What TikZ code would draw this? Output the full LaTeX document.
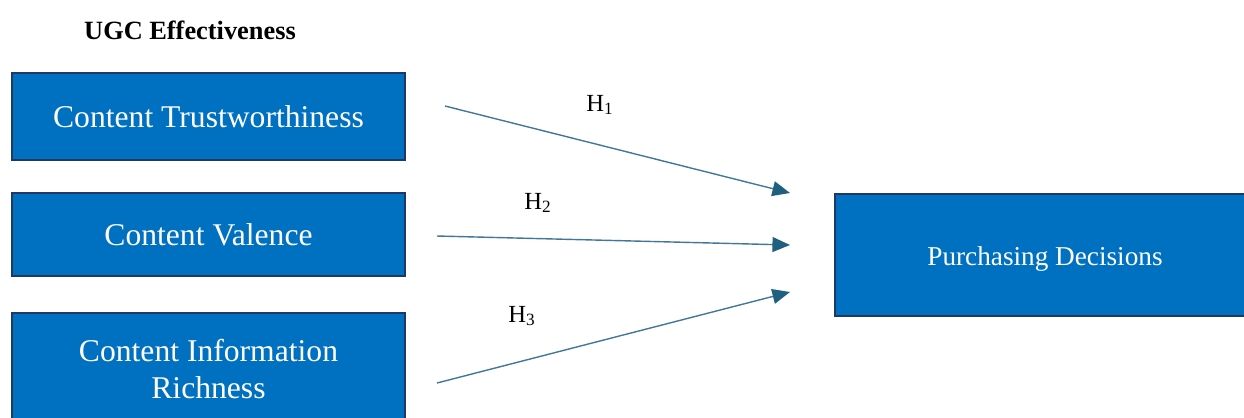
\documentclass[tikz,border=0pt]{standalone}
\usepackage{fontspec}
\setmainfont{Liberation Serif}
\usetikzlibrary{arrows.meta, positioning}
\definecolor{cfill}{HTML}{0070C0}
\definecolor{cedge}{HTML}{1F3864}
\definecolor{carrow}{HTML}{41789A}
\definecolor{ctip}{HTML}{1F5F80}
\tikzset{
  box/.style={draw=cedge, fill=cfill, text=white, line width=1.1pt, align=center,
    inner sep=0pt, font=\fontsize{18}{20.5}\selectfont},
  arrow/.style={-{Triangle[length=10pt, width=8.5pt, color=ctip]}, draw=carrow, line width=0.8pt},
  hyp/.style={font=\fontsize{14}{16}\selectfont},
  title/.style={font=\bfseries\fontsize{15}{17}\selectfont},
}
\begin{document}
\begin{tikzpicture}[x=0.02cm, y=-0.02cm]
  \useasboundingbox (0,0) rectangle (1244,417);
  \node[title] (ttl) at (190,30) {UGC Effectiveness};
  % ---------- predictors
  \node[box, minimum width=7.86cm, minimum height=1.74cm] (trust) at (208.5,116.5) {Content Trustworthiness};
  \node[box, minimum width=7.86cm, minimum height=1.66cm] (val) at (208.5,234.5) {Content Valence};
  \node[box, minimum width=7.86cm, minimum height=2.24cm] (rich) at (208.5,369) {Content Information\\Richness};
  % ---------- outcome
  \node[box, minimum width=8.4cm, minimum height=2.44cm, font=\fontsize{15.5}{18}\selectfont] (dec) at (1045,255) {\rule{0pt}{15.5pt}Purchasing Decisions};
  % ---------- hypotheses
  \coordinate (s1) at (445,106);  \coordinate (e1) at (790,193);
  \coordinate (s2) at (437,236);  \coordinate (e2) at (790,245);
  \coordinate (s3) at (437,383);  \coordinate (e3) at (790,292);
  \draw[arrow] (s1) -- (e1);
  \draw[arrow] (s2) -- (e2);
  \draw[arrow] (s3) -- (e3);
  \node[hyp] (h1) at (600,105) {H\textsubscript{1}};
  \node[hyp] (h2) at (538,203) {H\textsubscript{2}};
  \node[hyp] (h3) at (522,316) {H\textsubscript{3}};
\end{tikzpicture}
\end{document}
